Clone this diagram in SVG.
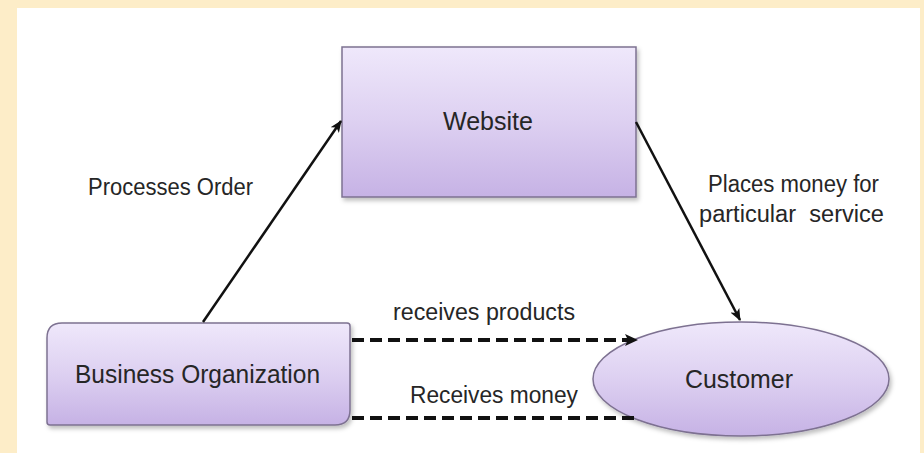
<svg xmlns="http://www.w3.org/2000/svg" width="924" height="453" viewBox="0 0 924 453">
  <defs>
    <linearGradient id="fillGrad" x1="0" y1="0" x2="0" y2="1">
      <stop offset="0" stop-color="#efe8fb"/>
      <stop offset="0.5" stop-color="#ddd0f1"/>
      <stop offset="1" stop-color="#c6b2e5"/>
    </linearGradient>
    <filter id="shadow" x="-10%" y="-10%" width="125%" height="130%">
      <feDropShadow dx="2" dy="3" stdDeviation="2" flood-color="#000" flood-opacity="0.25"/>
    </filter>
    <marker id="arrow" viewBox="0 0 12 10" refX="11" refY="5" markerWidth="12" markerHeight="10" markerUnits="userSpaceOnUse" orient="auto">
      <path d="M0,0 L12,5 L0,10 L3,5 Z" fill="#111"/>
    </marker>
  </defs>
  <style>
    .node { fill: url(#fillGrad); stroke: #7d7191; stroke-width: 1.5; filter: url(#shadow); }
    .label { font-family: "Liberation Sans", Arial, sans-serif; fill: #262626; text-anchor: middle; }
    .nodeText { font-size: 25px; }
    .edgeText { font-size: 23px; }
    .solid { fill: none; stroke: #111; stroke-width: 2.5; }
    .dashed { fill: none; stroke: #111; stroke-width: 4; stroke-dasharray: 12 6; }
  </style>

  <rect x="0" y="0" width="924" height="453" fill="#fdedc8"/>
  <rect x="17" y="8" width="903" height="445" fill="#ffffff"/>

  <g id="website">
    <rect class="node" x="342" y="47" width="294" height="150"/>
    <text class="label nodeText" x="488" y="130" textLength="90" lengthAdjust="spacingAndGlyphs">Website</text>
  </g>

  <g id="business-organization">
    <path class="node" d="M62,323 H347 Q350,323 350,326 V410 Q350,425 335,425 H50 Q47,425 47,422 V338 Q47,323 62,323 Z"/>
    <text class="label nodeText" x="197.5" y="383" textLength="245" lengthAdjust="spacingAndGlyphs">Business Organization</text>
  </g>

  <g id="customer">
    <ellipse class="node" cx="741" cy="379" rx="148" ry="57"/>
    <text class="label nodeText" x="739" y="388" textLength="108" lengthAdjust="spacingAndGlyphs">Customer</text>
  </g>

  <g id="connectors">
    <path class="solid" d="M203,322 L341,121" marker-end="url(#arrow)"/>
    <path class="solid" d="M636,122 L740,320" marker-end="url(#arrow)"/>
    <path class="dashed" d="M352,340 L630,340"/>
    <path d="M625,334 L638,340 L625,346 L628,340 Z" fill="#111"/>
    <path class="dashed" d="M352,418 L634,418"/>
    <text class="label edgeText" x="170.5" y="195" textLength="165" lengthAdjust="spacingAndGlyphs">Processes Order</text>
    <text class="label edgeText" x="793.5" y="192" textLength="171" lengthAdjust="spacingAndGlyphs">Places money for</text>
    <text class="label edgeText" x="791.5" y="222" textLength="185" lengthAdjust="spacingAndGlyphs" xml:space="preserve">particular  service</text>
    <text class="label edgeText" x="484" y="320" textLength="182" lengthAdjust="spacingAndGlyphs">receives products</text>
    <text class="label edgeText" x="494" y="403" textLength="168" lengthAdjust="spacingAndGlyphs">Receives money</text>
  </g>
</svg>
